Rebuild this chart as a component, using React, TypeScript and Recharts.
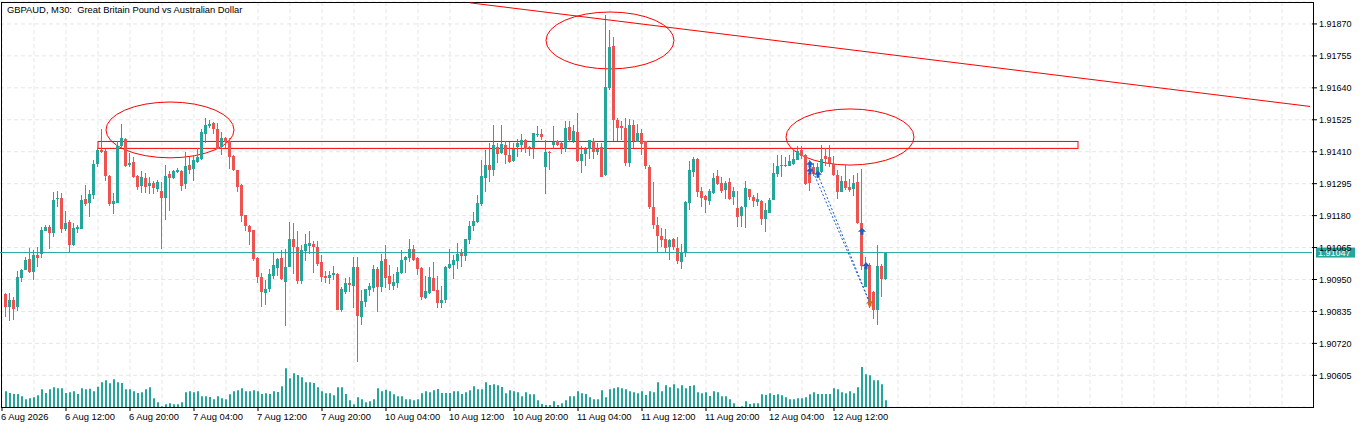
import React from "react";
import {
  ComposedChart, Bar, XAxis, YAxis, CartesianGrid,
  ReferenceLine, ReferenceArea, ReferenceDot,
} from "recharts";

// GBPAUD M30, 6 Aug 04:30 .. 12 Aug 18:30 (one entry per bar)
const OPEN = [
  1.90898, 1.90852, 1.90878, 1.90850, 1.90958, 1.90986, 1.91025, 1.90979, 1.91039, 1.91042,
  1.91126, 1.91138, 1.91118, 1.91238, 1.91243, 1.91130, 1.91157, 1.91075, 1.91133, 1.91133,
  1.91241, 1.91224, 1.91255, 1.91366, 1.91416, 1.91414, 1.91322, 1.91222, 1.91226, 1.91430,
  1.91457, 1.91361, 1.91373, 1.91322, 1.91284, 1.91315, 1.91286, 1.91296, 1.91274, 1.91270,
  1.91241, 1.91330, 1.91315, 1.91337, 1.91342, 1.91294, 1.91363, 1.91346, 1.91375, 1.91385,
  1.91476, 1.91502, 1.91514, 1.91493, 1.91428, 1.91459, 1.91450, 1.91394, 1.91344, 1.91291,
  1.91181, 1.91142, 1.91128, 1.91027, 1.90960, 1.90902, 1.90917, 1.90960, 1.90994, 1.91027,
  1.90941, 1.90996, 1.91097, 1.91068, 1.90946, 1.91054, 1.91070, 1.91078, 1.91068, 1.91013,
  1.90962, 1.90955, 1.90965, 1.90970, 1.90840, 1.90905, 1.90938, 1.90926, 1.90996, 1.90818,
  1.90869, 1.90910, 1.90922, 1.90989, 1.90924, 1.91025, 1.90962, 1.90926, 1.90938, 1.90972,
  1.91020, 1.91027, 1.91061, 1.91027, 1.90991, 1.90883, 1.90902, 1.90955, 1.90912, 1.90866,
  1.90876, 1.90991, 1.91003, 1.91018, 1.91046, 1.91034, 1.91092, 1.91140, 1.91157, 1.91222,
  1.91315, 1.91361, 1.91342, 1.91426, 1.91404, 1.91435, 1.91399, 1.91378, 1.91428, 1.91435,
  1.91454, 1.91428, 1.91423, 1.91471, 1.91474, 1.91356, 1.91409, 1.91435, 1.91450, 1.91440,
  1.91421, 1.91498, 1.91447, 1.91481, 1.91378, 1.91402, 1.91421, 1.91450, 1.91409, 1.91426,
  1.91325, 1.91639, 1.91790, 1.91524, 1.91502, 1.91495, 1.91370, 1.91505, 1.91447, 1.91476,
  1.91447, 1.91356, 1.91212, 1.91147, 1.91106, 1.91094, 1.91068, 1.91094, 1.91063, 1.91013,
  1.91049, 1.91226, 1.91339, 1.91385, 1.91270, 1.91250, 1.91234, 1.91262, 1.91322, 1.91298,
  1.91272, 1.91301, 1.91246, 1.91207, 1.91176, 1.91210, 1.91274, 1.91246, 1.91231, 1.91231,
  1.91166, 1.91190, 1.91236, 1.91330, 1.91358, 1.91358, 1.91361, 1.91368, 1.91382, 1.91416,
  1.91399, 1.91332, 1.91356, 1.91330, 1.91337, 1.91394, 1.91390, 1.91366, 1.91327, 1.91267,
  1.91306, 1.91282, 1.91277, 1.91301, 1.91152, 1.90924, 1.91001, 1.90905, 1.90840, 1.90998,
  1.90953,
];

const HIGH = [
  1.90902, 1.90902, 1.90888, 1.90982, 1.90989, 1.91032, 1.91063, 1.91056, 1.91066, 1.91138,
  1.91145, 1.91145, 1.91265, 1.91267, 1.91262, 1.91198, 1.91164, 1.91152, 1.91145, 1.91253,
  1.91289, 1.91272, 1.91380, 1.91426, 1.91490, 1.91418, 1.91327, 1.91260, 1.91447, 1.91510,
  1.91459, 1.91404, 1.91392, 1.91325, 1.91339, 1.91334, 1.91320, 1.91306, 1.91308, 1.91301,
  1.91361, 1.91342, 1.91346, 1.91351, 1.91346, 1.91409, 1.91392, 1.91399, 1.91423, 1.91493,
  1.91531, 1.91526, 1.91517, 1.91512, 1.91481, 1.91462, 1.91459, 1.91397, 1.91346, 1.91294,
  1.91183, 1.91145, 1.91130, 1.91030, 1.90972, 1.90948, 1.90989, 1.91046, 1.91027, 1.91056,
  1.91061, 1.91157, 1.91154, 1.91123, 1.91073, 1.91114, 1.91126, 1.91087, 1.91090, 1.91039,
  1.90982, 1.90979, 1.90998, 1.90972, 1.90924, 1.90955, 1.90958, 1.91030, 1.91032, 1.90912,
  1.90917, 1.90938, 1.91001, 1.90996, 1.91042, 1.91075, 1.91003, 1.90970, 1.90996, 1.91056,
  1.91034, 1.91097, 1.91073, 1.91032, 1.90994, 1.90962, 1.90996, 1.91013, 1.90962, 1.90926,
  1.90998, 1.91061, 1.91039, 1.91080, 1.91061, 1.91097, 1.91159, 1.91193, 1.91253, 1.91380,
  1.91416, 1.91442, 1.91505, 1.91442, 1.91505, 1.91447, 1.91445, 1.91442, 1.91457, 1.91474,
  1.91457, 1.91430, 1.91478, 1.91502, 1.91490, 1.91452, 1.91411, 1.91502, 1.91454, 1.91450,
  1.91519, 1.91522, 1.91505, 1.91548, 1.91430, 1.91428, 1.91454, 1.91459, 1.91440, 1.91440,
  1.91901, 1.91848, 1.91822, 1.91531, 1.91519, 1.91531, 1.91529, 1.91524, 1.91510, 1.91493,
  1.91447, 1.91363, 1.91301, 1.91176, 1.91135, 1.91133, 1.91097, 1.91099, 1.91104, 1.91078,
  1.91234, 1.91378, 1.91392, 1.91387, 1.91284, 1.91255, 1.91277, 1.91332, 1.91346, 1.91320,
  1.91303, 1.91315, 1.91282, 1.91270, 1.91214, 1.91303, 1.91277, 1.91253, 1.91262, 1.91236,
  1.91224, 1.91243, 1.91368, 1.91399, 1.91399, 1.91390, 1.91397, 1.91416, 1.91430, 1.91430,
  1.91402, 1.91380, 1.91370, 1.91368, 1.91435, 1.91423, 1.91435, 1.91394, 1.91346, 1.91322,
  1.91361, 1.91313, 1.91325, 1.91332, 1.91349, 1.91032, 1.91008, 1.90907, 1.91073, 1.91006,
  1.91046,
];

const LOW = [
  1.90814, 1.90802, 1.90806, 1.90838, 1.90941, 1.90984, 1.90972, 1.90948, 1.90994, 1.91025,
  1.91123, 1.91058, 1.91104, 1.91210, 1.91118, 1.91126, 1.91049, 1.91068, 1.91116, 1.91130,
  1.91212, 1.91176, 1.91241, 1.91354, 1.91404, 1.91301, 1.91217, 1.91183, 1.91224, 1.91428,
  1.91354, 1.91354, 1.91318, 1.91272, 1.91260, 1.91262, 1.91260, 1.91260, 1.91265, 1.91061,
  1.91164, 1.91198, 1.91313, 1.91334, 1.91272, 1.91277, 1.91332, 1.91306, 1.91368, 1.91382,
  1.91442, 1.91498, 1.91474, 1.91418, 1.91397, 1.91421, 1.91349, 1.91339, 1.91267, 1.91157,
  1.91126, 1.91073, 1.91018, 1.90938, 1.90850, 1.90859, 1.90907, 1.90953, 1.90962, 1.90948,
  1.90785, 1.90994, 1.90970, 1.90931, 1.90934, 1.91018, 1.91042, 1.90972, 1.91001, 1.90941,
  1.90938, 1.90931, 1.90948, 1.90838, 1.90835, 1.90898, 1.90905, 1.90845, 1.90653, 1.90787,
  1.90852, 1.90893, 1.90905, 1.90835, 1.90905, 1.90922, 1.90912, 1.90914, 1.90922, 1.90970,
  1.90974, 1.91015, 1.91015, 1.90967, 1.90876, 1.90881, 1.90900, 1.90907, 1.90847, 1.90847,
  1.90864, 1.90989, 1.90953, 1.90986, 1.90996, 1.91018, 1.91075, 1.91126, 1.91154, 1.91214,
  1.91265, 1.91301, 1.91320, 1.91370, 1.91399, 1.91363, 1.91370, 1.91373, 1.91392, 1.91409,
  1.91406, 1.91394, 1.91385, 1.91464, 1.91452, 1.91258, 1.91344, 1.91418, 1.91433, 1.91404,
  1.91409, 1.91445, 1.91440, 1.91373, 1.91332, 1.91361, 1.91385, 1.91382, 1.91397, 1.91318,
  1.91322, 1.91632, 1.91447, 1.91447, 1.91450, 1.91358, 1.91356, 1.91423, 1.91445, 1.91399,
  1.91346, 1.91205, 1.91133, 1.91049, 1.91068, 1.91046, 1.91022, 1.91056, 1.91008, 1.90989,
  1.91032, 1.91202, 1.91320, 1.91248, 1.91212, 1.91190, 1.91219, 1.91258, 1.91291, 1.91262,
  1.91238, 1.91236, 1.91217, 1.91142, 1.91138, 1.91135, 1.91236, 1.91210, 1.91214, 1.91147,
  1.91118, 1.91188, 1.91234, 1.91320, 1.91318, 1.91354, 1.91358, 1.91363, 1.91380, 1.91382,
  1.91289, 1.91270, 1.91325, 1.91313, 1.91334, 1.91358, 1.91356, 1.91322, 1.91241, 1.91265,
  1.91270, 1.91267, 1.91250, 1.91150, 1.90984, 1.90924, 1.90845, 1.90806, 1.90785, 1.90888,
  1.90948,
];

const CLOSE = [
  1.90850, 1.90876, 1.90847, 1.90958, 1.90986, 1.91022, 1.90979, 1.91039, 1.91027, 1.91128,
  1.91140, 1.91118, 1.91238, 1.91243, 1.91130, 1.91152, 1.91075, 1.91135, 1.91140, 1.91238,
  1.91224, 1.91258, 1.91366, 1.91416, 1.91409, 1.91325, 1.91222, 1.91234, 1.91430, 1.91459,
  1.91361, 1.91370, 1.91320, 1.91284, 1.91318, 1.91284, 1.91298, 1.91279, 1.91301, 1.91243,
  1.91322, 1.91315, 1.91342, 1.91344, 1.91289, 1.91358, 1.91346, 1.91380, 1.91392, 1.91481,
  1.91507, 1.91510, 1.91493, 1.91421, 1.91459, 1.91445, 1.91394, 1.91342, 1.91284, 1.91178,
  1.91140, 1.91121, 1.91025, 1.90960, 1.90905, 1.90917, 1.90970, 1.91001, 1.91025, 1.90950,
  1.90996, 1.91097, 1.91068, 1.90946, 1.91056, 1.91078, 1.91082, 1.91068, 1.91008, 1.90960,
  1.90955, 1.90967, 1.90974, 1.90840, 1.90917, 1.90936, 1.90931, 1.90996, 1.90818, 1.90874,
  1.90914, 1.90926, 1.90989, 1.90926, 1.91018, 1.90955, 1.90934, 1.90941, 1.90977, 1.91020,
  1.91030, 1.91061, 1.91020, 1.90989, 1.90888, 1.90910, 1.90960, 1.90910, 1.90866, 1.90876,
  1.90994, 1.91006, 1.91020, 1.91042, 1.91034, 1.91094, 1.91142, 1.91159, 1.91224, 1.91322,
  1.91361, 1.91342, 1.91433, 1.91402, 1.91438, 1.91399, 1.91375, 1.91421, 1.91442, 1.91452,
  1.91421, 1.91423, 1.91478, 1.91474, 1.91462, 1.91409, 1.91406, 1.91445, 1.91435, 1.91421,
  1.91495, 1.91452, 1.91483, 1.91378, 1.91402, 1.91421, 1.91452, 1.91409, 1.91421, 1.91318,
  1.91642, 1.91788, 1.91522, 1.91495, 1.91493, 1.91370, 1.91507, 1.91447, 1.91478, 1.91438,
  1.91356, 1.91212, 1.91147, 1.91106, 1.91090, 1.91061, 1.91092, 1.91066, 1.91018, 1.91046,
  1.91229, 1.91344, 1.91385, 1.91265, 1.91246, 1.91234, 1.91270, 1.91315, 1.91294, 1.91270,
  1.91296, 1.91241, 1.91267, 1.91176, 1.91210, 1.91279, 1.91246, 1.91231, 1.91241, 1.91166,
  1.91200, 1.91238, 1.91332, 1.91358, 1.91361, 1.91363, 1.91378, 1.91385, 1.91414, 1.91394,
  1.91294, 1.91296, 1.91332, 1.91356, 1.91385, 1.91382, 1.91368, 1.91327, 1.91267, 1.91306,
  1.91279, 1.91270, 1.91298, 1.91152, 1.90996, 1.90996, 1.90857, 1.90840, 1.90998, 1.90953,
  1.91046,
];

// tick volume per bar
const VOLUME = [
  470, 420, 390, 390, 320, 230, 260, 290, 350, 530,
  420, 530, 590, 560, 560, 420, 440, 470, 390, 560,
  530, 550, 470, 610, 740, 800, 710, 830, 740, 720,
  530, 530, 470, 420, 440, 530, 590, 260, 140, 20,
  80, 110, 80, 80, 140, 440, 470, 440, 470, 320,
  320, 300, 230, 320, 260, 230, 380, 470, 500, 560,
  470, 470, 500, 470, 390, 410, 390, 470, 450, 620,
  1160, 860, 1010, 960, 890, 740, 740, 720, 590, 470,
  410, 410, 350, 590, 590, 390, 200, 80, 290, 230,
  140, 170, 230, 560, 470, 520, 470, 380, 320, 320,
  230, 230, 200, 230, 410, 470, 440, 500, 540, 420,
  420, 420, 470, 470, 390, 440, 500, 620, 530, 530,
  740, 660, 680, 650, 600, 410, 500, 470, 440, 320,
  440, 380, 380, 200, 90, 60, 60, 170, 60, 110,
  200, 320, 320, 470, 410, 390, 290, 230, 230, 500,
  290, 530, 560, 590, 560, 530, 470, 440, 410, 470,
  360, 470, 440, 740, 470, 650, 590, 680, 560, 650,
  560, 630, 650, 440, 410, 440, 330, 470, 440, 320,
  320, 230, 110, 10, 20, 170, 90, 110, 110, 380,
  360, 410, 360, 380, 350, 290, 230, 230, 260, 260,
  290, 380, 440, 390, 390, 390, 390, 560, 530, 440,
  410, 470, 410, 590, 1200, 980, 950, 800, 800, 680,
  200,
];

const TIME_LABELS = [
  "6 Aug 2026", "6 Aug 12:00", "6 Aug 20:00", "7 Aug 04:00", "7 Aug 12:00",
  "7 Aug 20:00", "10 Aug 04:00", "10 Aug 12:00", "10 Aug 20:00", "11 Aug 04:00",
  "11 Aug 12:00", "11 Aug 20:00", "12 Aug 04:00", "12 Aug 12:00",
];
const BARS_PER_LABEL = 16;

const PRICE_TICKS = [
  1.90605, 1.90720, 1.90835, 1.90950, 1.91065, 1.91180,
  1.91295, 1.91410, 1.91525, 1.91640, 1.91755, 1.91870,
];
const BID = 1.91047;

// chart objects, anchored on bar slots and prices
const TREND = [{ x: 117, y: 1.91946 }, { x: 327, y: 1.91573 }];
const BOX = { x1: 24, x2: 269, y1: 1.91422, y2: 1.91447 };
const ELLIPSES = [
  { x1: 26, x2: 58, y1: 1.91388, y2: 1.91589 },
  { x1: 136, x2: 168, y1: 1.91708, y2: 1.91913 },
  { x1: 196, x2: 228, y1: 1.91362, y2: 1.91564 },
];
const DEALS = [
  { x: 202, y: 1.91363, exit: false },
  { x: 202, y: 1.91339, exit: false },
  { x: 204, y: 1.91327, exit: false },
  { x: 215, y: 1.91122, exit: false },
  { x: 216, y: 1.90998, exit: false },
  { x: 217, y: 1.90864, exit: true },
];
const DEAL_LINES = [
  [{ x: 202, y: 1.91363 }, { x: 217, y: 1.90864 }],
  [{ x: 204, y: 1.91327 }, { x: 217, y: 1.90864 }],
];

const FONT = "'Liberation Sans', Arial, Helvetica, sans-serif";
const BULL = "#26a69a";
const BEAR = "#ef5350";
const OBJ = "#ff0000";
const DEAL = "#1c5fc4";
const GRID = "#e6e6e6";

const SLOTS = 328; // visible bar slots, incl. empty space on the right
const LEAD = 1; // first slot holds the bar cut off by the frame
const HALF_SLOT = 2;
const Y_MIN = 1.90491;
const Y_MAX = 1.91949;
const VOL_MAX = 12150;

const rows = Array.from({ length: SLOTS }, (_, slot) => {
  const i = slot - LEAD;
  if (i < 0 || i >= OPEN.length) return { slot };
  return {
    slot,
    range: [LOW[i], HIGH[i]],
    open: OPEN[i],
    high: HIGH[i],
    low: LOW[i],
    close: CLOSE[i],
    volume: VOLUME[i],
  };
});
const labelSlots = TIME_LABELS.map((_, k) => k * BARS_PER_LABEL);
const gridSlots = Array.from({ length: Math.ceil(SLOTS / 8) }, (_, k) => k * 8);

function Candle(props: any) {
  const { x, y, width, height, payload } = props;
  if (!payload || payload.open == null) return null;
  const { open, high, low, close } = payload;
  const top = Math.min(y, y + height);
  const h = Math.abs(height);
  const toY = (v: number) => top + ((high - v) / (high - low || 1)) * h;
  const cx = Math.floor(x + width / 2 + 0.01);
  const bodyTop = toY(Math.max(open, close));
  const bodyBot = toY(Math.min(open, close));
  return (
    <g fill={close >= open ? BULL : BEAR} shapeRendering="crispEdges">
      <rect x={cx} y={Math.round(top)} width={1} height={Math.max(1, Math.round(h))} />
      <rect x={cx - 1} y={Math.round(bodyTop)} width={3} height={Math.max(1, Math.round(bodyBot - bodyTop))} />
    </g>
  );
}

function EllipseShape(props: any) {
  const { x, y, width, height } = props;
  return (
    <ellipse cx={x + width / 2} cy={y + height / 2} rx={width / 2 - HALF_SLOT} ry={height / 2}
      fill="none" stroke={OBJ} strokeWidth={1} />
  );
}

function BoxShape(props: any) {
  const { x, y, width, height } = props;
  return <rect x={x + HALF_SLOT} y={y} width={width - 2 * HALF_SLOT} height={height} fill="none" stroke={OBJ} strokeWidth={1} />;
}

function FrameShape(props: any) {
  const { x, y, width, height } = props;
  return <rect x={x + 1.5} y={y + 0.5} width={width} height={height} fill="none" stroke="#000" strokeWidth={1} />;
}

function DealArrow(props: any) {
  const { cx, cy, exit } = props;
  const c = exit ? "#d2691e" : DEAL;
  const pts = [
    [cx, cy - 4], [cx + 4, cy], [cx + 1.5, cy], [cx + 1.5, cy + 3],
    [cx - 1.5, cy + 3], [cx - 1.5, cy], [cx - 4, cy],
  ].map((p) => p.join(",")).join(" ");
  return <polygon points={pts} fill={c} />;
}

function BidTag(props: any) {
  const { x, y, width } = props.viewBox;
  return (
    <g>
      <rect x={x + width + 4} y={y - 5} width={39} height={10} fill={BULL} />
      <text x={x + width + 6} y={y + 3.5} fill="#fff" fontSize={9} fontFamily={FONT}>{BID.toFixed(5)}</text>
    </g>
  );
}

function TimeTick(props: any) {
  const { x, y, payload } = props;
  return (
    <text x={x - 1} y={y} dy="0.71em" textAnchor="start" fontSize={9.4} fontFamily={FONT} fill="#000">
      {TIME_LABELS[payload.value / BARS_PER_LABEL]}
    </text>
  );
}

export default function App() {
  return (
    <div style={{ position: "fixed", left: 0, top: 0, width: 1366, height: 428, background: "#fff" }}>
      <ComposedChart width={1366} height={428} data={rows} margin={{ top: 2, right: 0, bottom: 0, left: 0 }}>
        <CartesianGrid stroke={GRID} strokeDasharray="4 3" verticalValues={gridSlots} />
        <XAxis dataKey="slot" type="category" ticks={labelSlots} interval={0} height={21}
          tickSize={4} tickLine={{ stroke: "#000" }} axisLine={false} tick={<TimeTick />} />
        <XAxis xAxisId="vol" dataKey="slot" type="category" hide />
        <YAxis orientation="right" width={54} domain={[Y_MIN, Y_MAX]} ticks={PRICE_TICKS} interval={0}
          allowDataOverflow tickSize={5} tickLine={{ stroke: "#000" }} axisLine={false}
          tickFormatter={(v: number) => v.toFixed(5)}
          tick={{ fill: "#000", fontSize: 9, fontFamily: FONT }} />
        <YAxis yAxisId="vol" hide domain={[0, VOL_MAX]} />

        <Bar xAxisId="vol" yAxisId="vol" dataKey="volume" fill={BULL} barSize={2} isAnimationActive={false} />
        <Bar dataKey="range" shape={<Candle />} isAnimationActive={false} />

        <ReferenceArea {...BOX} shape={<BoxShape />} />
        {ELLIPSES.map((e, k) => (
          <ReferenceArea key={k} {...e} shape={<EllipseShape />} />
        ))}
        <ReferenceLine segment={TREND} stroke={OBJ} strokeWidth={1} />
        <ReferenceLine y={BID} stroke={BULL} strokeWidth={1} label={<BidTag />} />
        {DEAL_LINES.map((seg, k) => (
          <ReferenceLine key={k} segment={seg} stroke={DEAL} strokeWidth={1} strokeDasharray="2 2" />
        ))}
        {DEALS.map((d, k) => (
          <ReferenceDot key={k} x={d.x} y={d.y} r={4} shape={<DealArrow exit={d.exit} />} />
        ))}
        <ReferenceArea x1={0} x2={SLOTS - 1} y1={Y_MIN} y2={Y_MAX} shape={<FrameShape />} />
      </ComposedChart>
      <svg width={400} height={20} style={{ position: "absolute", left: 0, top: 0 }}>
        <text x={7} y={13} fontSize={9.4} fontFamily={FONT} fill="#000" style={{ whiteSpace: "pre" }}>
          {"GBPAUD, M30:  Great Britain Pound vs Australian Dollar"}
        </text>
      </svg>
    </div>
  );
}
